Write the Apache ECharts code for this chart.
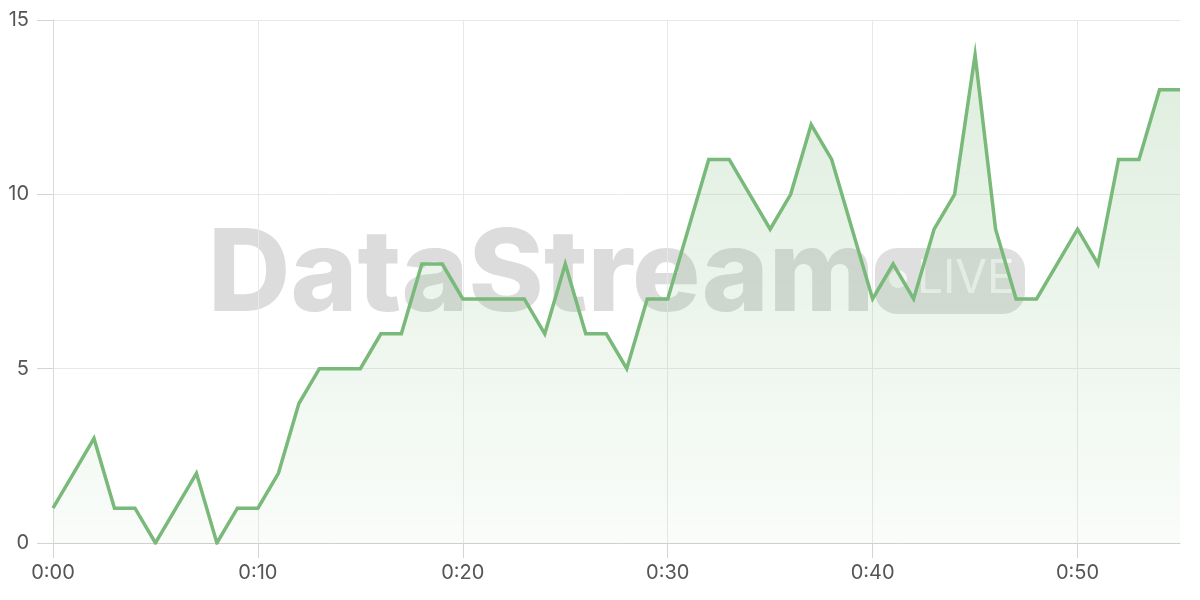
<!DOCTYPE html>
<html>
<head>
<meta charset="utf-8">
<script src="https://cdn.jsdelivr.net/npm/echarts@6/dist/echarts.min.js"></script>
<style>
html,body{margin:0;padding:0;background:#fff;}
#c{width:1200px;height:600px;}
</style>
</head>
<body>
<div id="c"></div>
<script>
const categories = [
 "0:00","0:01","0:02","0:03","0:04","0:05","0:06","0:07","0:08","0:09",
 "0:10","0:11","0:12","0:13","0:14","0:15","0:16","0:17","0:18","0:19",
 "0:20","0:21","0:22","0:23","0:24","0:25","0:26","0:27","0:28","0:29",
 "0:30","0:31","0:32","0:33","0:34","0:35","0:36","0:37","0:38","0:39",
 "0:40","0:41","0:42","0:43","0:44","0:45","0:46","0:47","0:48","0:49",
 "0:50","0:51","0:52","0:53","0:54","0:55"
];
const values = [
 1,2,3,1,1,0,1,2,0,1,
 1,2,4,5,5,5,6,6,8,8,
 7,7,7,7,6,8,6,6,5,7,
 7,9,11,11,10,9,10,12,11,9,
 7,8,7,9,10,14,9,7,7,8,
 9,8,11,11,13,13
];
const yTicks = [0,5,10,15];
const watermarkText = "DataStream";
const badgeText = "LIVE";

const chart = echarts.init(document.getElementById('c'), null, {renderer:'canvas'});
const gridColor = '#e8e8e8';
const tickColor = '#d4d4d4';
const labelFont = {color:'#555', fontSize:20, fontFamily:'Inter, "Noto Sans", sans-serif'};
chart.setOption({
  animation:false,
  grid:{left:53, right:20, top:20, bottom:57, containLabel:false},
  graphic:[
    {type:'text', z:-10, left:208, top:220,
     style:{text:watermarkText, fill:'rgba(140,140,140,0.3)', font:'800 114px Inter, "Noto Sans", sans-serif'}},
    {type:'rect', z:-10, shape:{x:875, y:248, width:150, height:66, r:22},
     style:{fill:'rgba(140,140,140,0.28)'}},
    {type:'circle', z:-9, shape:{cx:898, cy:279, r:9},
     style:{fill:'rgba(255,255,255,0.75)'}},
    {type:'text', z:-9, left:917, top:256,
     style:{text:badgeText, fill:'rgba(255,255,255,0.75)', font:'400 46px Inter, "Noto Sans", sans-serif'}}
  ],
  xAxis:{
    type:'category', data:categories, boundaryGap:false,
    axisLine:{show:true, lineStyle:{color:'#cfcfcf', width:1}},
    axisTick:{show:true, inside:false, interval:9, length:15, lineStyle:{color:tickColor, width:1}},
    axisLabel:Object.assign({interval:9, margin:20}, labelFont),
    splitLine:{show:true, interval:9, lineStyle:{color:gridColor, width:1}}
  },
  yAxis:{
    type:'value', min:yTicks[0], max:yTicks[yTicks.length-1], interval:5,
    axisLine:{show:true, lineStyle:{color:'#dadada'}},
    axisTick:{show:true, inside:false, length:16, lineStyle:{color:tickColor, width:1}},
    axisLabel:Object.assign({margin:24}, labelFont),
    splitLine:{show:true, lineStyle:{color:gridColor, width:1}}
  },
  series:[{
    type:'line', data:values, showSymbol:false, symbol:'none',
    lineStyle:{color:'#79b979', width:3.5, join:'miter'},
    areaStyle:{color:new echarts.graphic.LinearGradient(0,0,0,1,[
      {offset:0, color:'rgba(121,185,121,0.35)'},
      {offset:1, color:'rgba(121,185,121,0.06)'}
    ])},
    z:5
  }]
});
</script>
</body>
</html>
